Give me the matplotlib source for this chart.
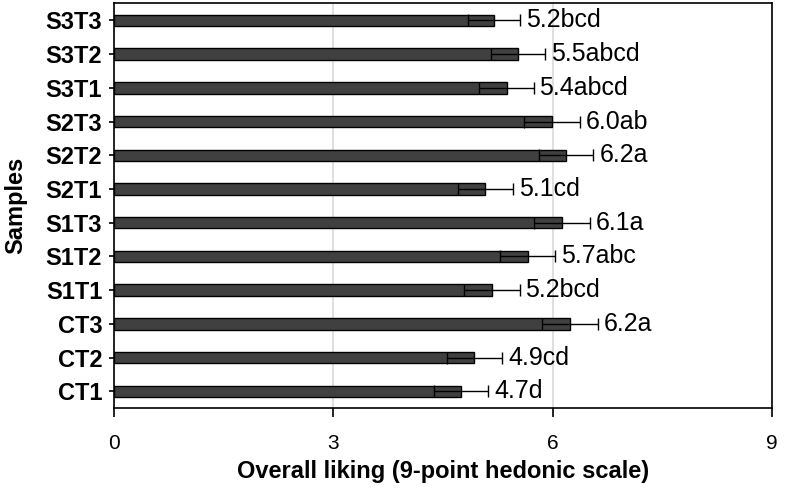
import numpy as np
import matplotlib.pyplot as plt

plt.rcParams['font.family'] = ['Liberation Sans', 'DejaVu Sans']

samples = ['CT1', 'CT2', 'CT3', 'S1T1', 'S1T2', 'S1T3',
           'S2T1', 'S2T2', 'S2T3', 'S3T1', 'S3T2', 'S3T3']
liking = [4.75, 4.93, 6.24, 5.17, 5.66, 6.13, 5.08, 6.19, 5.99, 5.37, 5.53, 5.20]
sd = [0.37, 0.38, 0.38, 0.38, 0.38, 0.38, 0.38, 0.37, 0.38, 0.37, 0.37, 0.36]
letters = ['d', 'cd', 'a', 'bcd', 'abc', 'a', 'cd', 'a', 'ab', 'abcd', 'abcd', 'bcd']
shown = ['4.7', '4.9', '6.2', '5.2', '5.7', '6.1', '5.1', '6.2', '6.0', '5.4', '5.5', '5.2']

fig = plt.figure(figsize=(7.86, 4.96), dpi=100)
ax = fig.add_axes([0.145, 0.177, 0.837, 0.816])

y = np.arange(len(samples))
ax.barh(y, liking, height=0.34, color='#404040', edgecolor='black', linewidth=1,
        zorder=2)
ax.errorbar(liking, y, xerr=sd, fmt='none', ecolor='black', elinewidth=1,
            capsize=4, capthick=1, zorder=3)

for yi, v, e, s, l in zip(y, liking, sd, shown, letters):
    ax.text(v + e + 0.08, yi, s + l, va='center', ha='left', fontsize=18)

ax.set_xlim(0, 9)
ax.set_ylim(-0.5, len(samples) - 0.5)
ax.set_xticks([0, 3, 6, 9])
ax.set_yticks(y)
ax.set_yticklabels(samples, fontweight='bold', fontsize=17)
ax.tick_params(axis='x', labelsize=15)
ax.xaxis.grid(True, color='#d9d9d9', linewidth=1.2, zorder=0)
ax.set_axisbelow(True)
ax.tick_params(axis='x', direction='out', length=6.5, width=1.2, pad=12)
ax.tick_params(axis='y', direction='inout', length=7, width=1.2, pad=5)
for sp in ax.spines.values():
    sp.set_linewidth(1.2)

ax.set_xlabel('Overall liking (9-point hedonic scale)', fontsize=17,
              fontweight='bold', labelpad=5)
ax.set_ylabel('Samples', fontsize=17, fontweight='bold', labelpad=13)

fig.savefig('out.png', dpi=100)
